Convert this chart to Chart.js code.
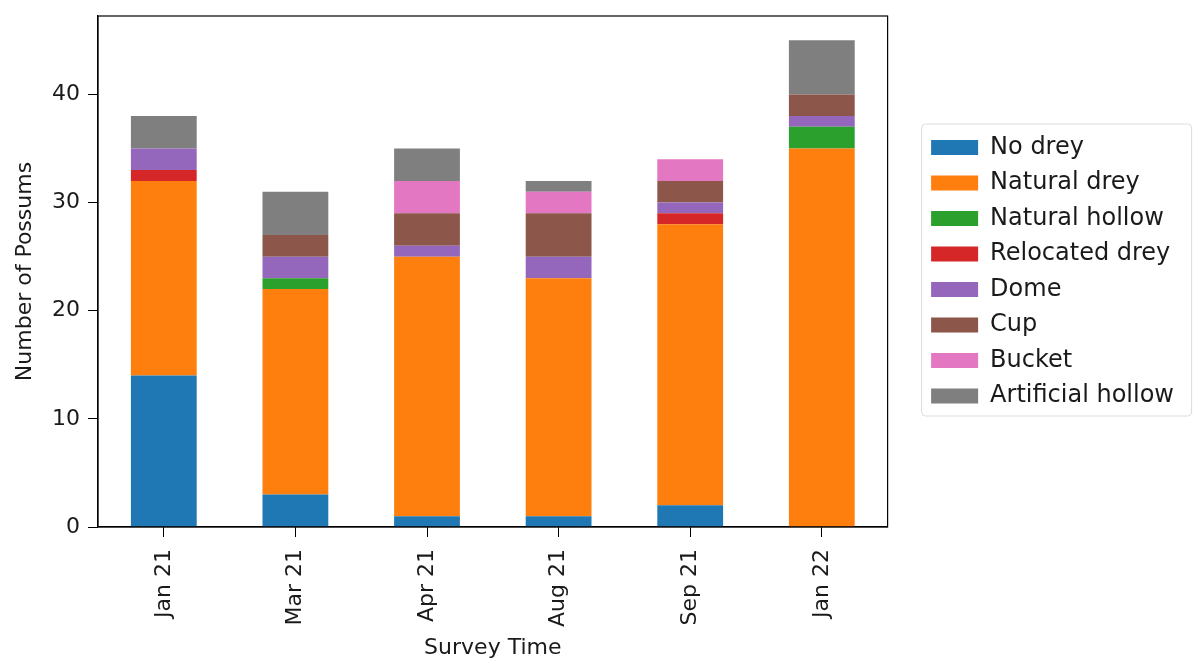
<!DOCTYPE html>
<html>
<head>
<meta charset="utf-8">
<script src="https://cdn.jsdelivr.net/npm/chart.js@4.4.1/dist/chart.umd.min.js"></script>
<style>
  html, body { margin: 0; padding: 0; background: #fff; }
  #wrap { width: 1198px; height: 671px; }
</style>
</head>
<body>
<div id="wrap"><canvas id="possums" width="1198" height="671"></canvas></div>
<script>
// survey data
const surveys = ['Jan 21', 'Mar 21', 'Apr 21', 'Aug 21', 'Sep 21', 'Jan 22'];
const noDrey         = [14, 3, 1, 1, 2, 0];
const naturalDrey    = [18, 19, 24, 22, 26, 35];
const naturalHollow  = [0, 1, 0, 0, 0, 2];
const relocatedDrey  = [1, 0, 0, 0, 1, 0];
const dome           = [2, 2, 1, 2, 1, 1];
const cup            = [0, 2, 3, 4, 2, 2];
const bucket         = [0, 0, 3, 2, 2, 0];
const artificialHollow = [3, 4, 3, 1, 0, 5];
const yTicks = [0, 10, 20, 30, 40];

const font = "'DejaVu Sans', sans-serif";
const ink = '#1a1a1a';
const legendGap = 32;  // space between plot frame and legend items
const legendTop = 124;

// widen the legend box so there is a gap between it and the plot
const legendGapPlugin = {
  id: 'legendGap',
  beforeLayout(chart) {
    const lg = chart.legend;
    if (lg && !lg._gapPatched) {
      const fit = lg.fit.bind(lg);
      lg.fit = function () { fit(); this.width += legendGap; };
      lg._gapPatched = true;
    }
  },
  afterLayout(chart) {
    const lg = chart.legend;
    const h = lg.bottom - lg.top;
    lg.left += legendGap;
    lg.top = legendTop;
    lg.bottom = legendTop + h;
  }
};

// black frame round the plot and grey frame round the legend
const framePlugin = {
  id: 'frames',
  afterDraw(chart) {
    const ctx = chart.ctx;
    const a = chart.chartArea;
    ctx.save();
    ctx.strokeStyle = '#000';
    ctx.lineWidth = 1.2;
    ctx.strokeRect(a.left, a.top, a.right - a.left, a.bottom - a.top);

    const lg = chart.legend;
    const x = lg.left + 2, y = 124, w = 270, h = 292, r = 4;
    ctx.strokeStyle = '#dcdcdc';
    ctx.lineWidth = 1;
    ctx.beginPath();
    ctx.moveTo(x + r, y);
    ctx.arcTo(x + w, y, x + w, y + h, r);
    ctx.arcTo(x + w, y + h, x, y + h, r);
    ctx.arcTo(x, y + h, x, y, r);
    ctx.arcTo(x, y, x + w, y, r);
    ctx.closePath();
    ctx.stroke();
    ctx.restore();
  }
};

const ctx = document.getElementById('possums').getContext('2d');
new Chart(ctx, {
  type: 'bar',
  data: {
    labels: surveys,
    datasets: [
      { label: 'No drey', data: noDrey, backgroundColor: '#1f77b4' },
      { label: 'Natural drey', data: naturalDrey, backgroundColor: '#ff7f0e' },
      { label: 'Natural hollow', data: naturalHollow, backgroundColor: '#2ca02c' },
      { label: 'Relocated drey', data: relocatedDrey, backgroundColor: '#d62728' },
      { label: 'Dome', data: dome, backgroundColor: '#9467bd' },
      { label: 'Cup', data: cup, backgroundColor: '#8c564b' },
      { label: 'Bucket', data: bucket, backgroundColor: '#e377c2' },
      { label: 'Artificial hollow', data: artificialHollow, backgroundColor: '#7f7f7f' }
    ]
  },
  options: {
    responsive: false,
    animation: false,
    layout: { padding: { left: 8, top: 16, right: 14, bottom: 6 } },
    datasets: { bar: { categoryPercentage: 1.0, barPercentage: 0.5, borderWidth: 0 } },
    plugins: {
      tooltip: { enabled: false },
      legend: {
        position: 'right',
        align: 'start',
        labels: {
          boxWidth: 47,
          boxHeight: 15,
          padding: 11.5,
          color: ink,
          font: { family: font, size: 24 }
        }
      }
    },
    scales: {
      x: {
        stacked: true,
        offset: true,
        border: { display: true, color: '#000', width: 1.2 },
        grid: { display: true, offset: false, drawOnChartArea: false, drawTicks: true, tickLength: 10, color: '#000' },
        ticks: { minRotation: 90, maxRotation: 90, padding: 12, color: ink, font: { family: font, size: 22 } },
        title: { display: true, text: 'Survey Time', color: ink, font: { family: font, size: 22 }, padding: { top: 4, bottom: 4 } },
        afterFit(s) { s.height = 138; s.paddingLeft = 0; s.paddingRight = 0; }
      },
      y: {
        stacked: true,
        min: 0,
        max: 47.25,
        border: { display: true, color: '#000', width: 1.2 },
        grid: { display: true, drawOnChartArea: false, drawTicks: true, tickLength: 10, color: '#000' },
        ticks: { padding: 8, color: ink, font: { family: font, size: 22 } },
        afterBuildTicks(s) { s.ticks = yTicks.map(v => ({ value: v })); },
        title: { display: true, text: 'Number of Possums', color: ink, font: { family: font, size: 22 }, padding: { top: 4, bottom: 4 } },
        afterFit(s) { s.width = 90; s.paddingTop = 0; s.paddingBottom = 0; }
      }
    }
  },
  plugins: [legendGapPlugin, framePlugin]
});
</script>
</body>
</html>
